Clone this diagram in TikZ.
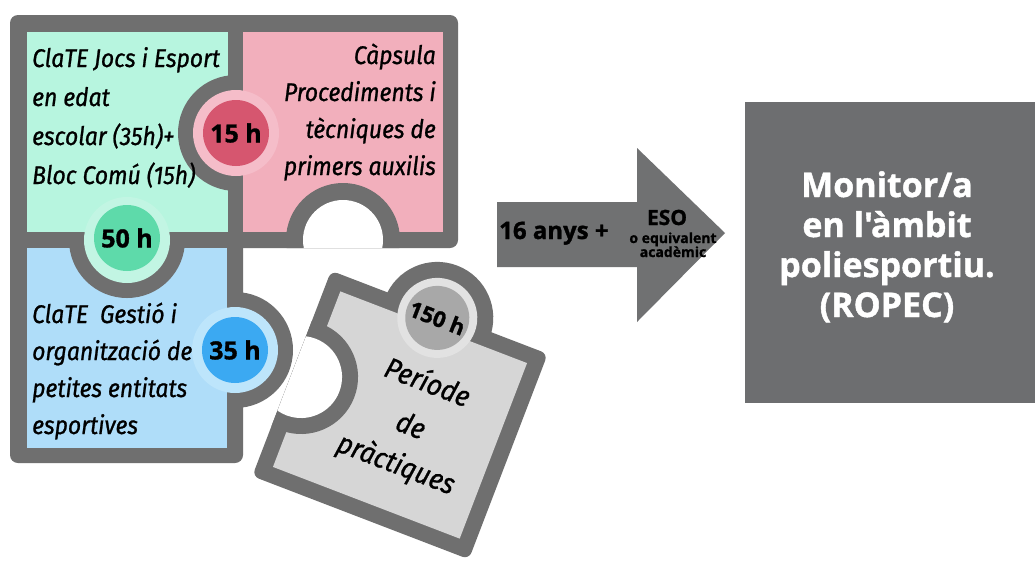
\documentclass[tikz,border=0pt]{standalone}
\usepackage{fontspec}
\newfontfamily\pzfont{Fira Sans}[FakeStretch=0.9, FakeBold=0.9]
\newfontfamily\osfont{Open Sans}[FakeBold=1.2]
\definecolor{frame}{HTML}{6F6F6F}
\definecolor{mint}{HTML}{B7F5DF}
\definecolor{mintknob}{HTML}{C2F5E3}
\definecolor{mintcirc}{HTML}{5EDAAA}
\definecolor{rose}{HTML}{F2AFBC}
\definecolor{roseknob}{HTML}{F5BDC9}
\definecolor{rosecirc}{HTML}{D6566F}
\definecolor{sky}{HTML}{AFDDF9}
\definecolor{skyknob}{HTML}{BDE5FB}
\definecolor{skycirc}{HTML}{3BA9F2}
\definecolor{piece}{HTML}{D6D6D6}
\definecolor{pieceknob}{HTML}{E2E2E2}
\definecolor{piececirc}{HTML}{A8A8A8}
\definecolor{arrowgray}{HTML}{707172}
\definecolor{boxgray}{HTML}{6D6E70}
\begin{document}
\begin{tikzpicture}[x=1pt,y=-1pt,
  pz/.style={font=\pzfont\itshape\fontsize{25.5}{28}\selectfont, inner sep=0pt, text=black},
  pzr/.style={font=\pzfont\itshape\fontsize{29}{32}\selectfont, inner sep=0pt, text=black, rotate=-21},
  num/.style={circle, inner sep=0pt, minimum size=66pt, font=\osfont\bfseries\fontsize{25}{28}\selectfont, text=black},
  boxtxt/.style={font=\osfont\bfseries\fontsize{34}{36}\selectfont, inner sep=0pt, text=white, anchor=base},
  arrtxt/.style={inner sep=0pt, text=black}]
\useasboundingbox (0,0) rectangle (1035,563);
\fill[white] (0,0) rectangle (1035,563);

% ---------- rotated grey piece ----------
\begin{scope}[shift={(400,415)}, rotate=-21]
  \fill[frame, rounded corners=7pt] (-116,-110) rectangle (116,110);
  \fill[frame] (0,-104) circle (56pt);
  \fill[piece] (-100,-94) rectangle (100,94);
  \fill[pieceknob] (0,-104) circle (40pt);
  \begin{scope}
    \clip[rounded corners=7pt] (-116,-110) rectangle (116,110);
    \fill[frame] (-106,0) circle (57pt);
    \fill[white] (-106,0) circle (41pt);
  \end{scope}
  \node[num, fill=piececirc, minimum size=64pt, font=\osfont\bfseries\fontsize{22}{26}\selectfont, rotate=-21] (c150) at (0,-104) {150 h};
  \node[pzr] (t1) at (14,-42) {Període};
  \node[pzr] (t2) at (14,5) {de};
  \node[pzr] (t3) at (14,48) {pràctiques};
\end{scope}

% ---------- left puzzle block ----------
\fill[frame, rounded corners=8pt] (10,15) rectangle (458,248);
\fill[frame, rounded corners=8pt] (10,232) rectangle (243,463);
\fill[frame] (235,350) circle (58pt);
\fill[sky] (27,248) rectangle (227,448);
\fill[frame] (127,240) circle (58pt);
\fill[mint] (27,32) rectangle (228,232);
\fill[frame] (236,133) circle (58pt);
\fill[rose] (243,32) rectangle (443,232);
\fill[skyknob] (235,350) circle (43pt);
\fill[mintknob] (127,240) circle (43pt);
\fill[roseknob] (236,133) circle (43pt);
\begin{scope}
  \clip[rounded corners=8pt] (10,15) rectangle (458,248);
  \fill[frame] (343,240) circle (57pt);
  \fill[white] (343,240) circle (40pt);
\end{scope}

\node[num, fill=rosecirc] (c15) at (236,133) {15 h};
\node[num, fill=mintcirc] (c50) at (127,238) {50 h};
\node[num, fill=skycirc] (c35) at (235,350) {35 h};

\node[pz, anchor=base west] (g1) at (32,67) {ClaTE Jocs i Esport};
\node[pz, anchor=base west] (g2) at (32,106) {en edat};
\node[pz, anchor=base west] (g3) at (32,145) {escolar (35h)+};
\node[pz, anchor=base west] (g4) at (32,184) {Bloc Comú (15h)};

\node[pz, anchor=base east] (p1) at (436,64) {Càpsula};
\node[pz, anchor=base east] (p2) at (436,101) {Procediments i};
\node[pz, anchor=base east] (p3) at (436,138) {tècniques de};
\node[pz, anchor=base east] (p4) at (436,175) {primers auxilis};

\node[pz, anchor=base west] (b1) at (32,323) {ClaTE\ \ Gestió i};
\node[pz, anchor=base west] (b2) at (32,360) {organització de};
\node[pz, anchor=base west] (b3) at (32,397) {petites entitats};
\node[pz, anchor=base west] (b4) at (32,434) {esportives};

% ---------- arrow ----------
\fill[arrowgray] (497,202) -- (637,202) -- (637,148) -- (725,233) -- (637,322) -- (637,267) -- (497,267) -- cycle;
\node[arrtxt, anchor=base west, font=\osfont\bfseries\fontsize{24}{26}\selectfont] (a1) at (499,239) {16 anys +};
\node[arrtxt, anchor=base, font=\osfont\bfseries\fontsize{21}{22}\selectfont] (a2) at (667,225) {ESO};
\node[arrtxt, anchor=base, font=\osfont\bfseries\fontsize{14}{15}\selectfont] (a3) at (673,243) {o equivalent};
\node[arrtxt, anchor=base, font=\osfont\bfseries\fontsize{14}{15}\selectfont] (a4) at (673,257) {acadèmic};

% ---------- result box ----------
\fill[boxgray] (745,102) rectangle (1035,403);
\node[boxtxt] (m1) at (887,197) {Monitor/a};
\node[boxtxt] (m2) at (887,237) {en l'àmbit};
\node[boxtxt] (m3) at (887,277) {poliesportiu.};
\node[boxtxt] (m4) at (887,317) {(ROPEC)};
\end{tikzpicture}
\end{document}
